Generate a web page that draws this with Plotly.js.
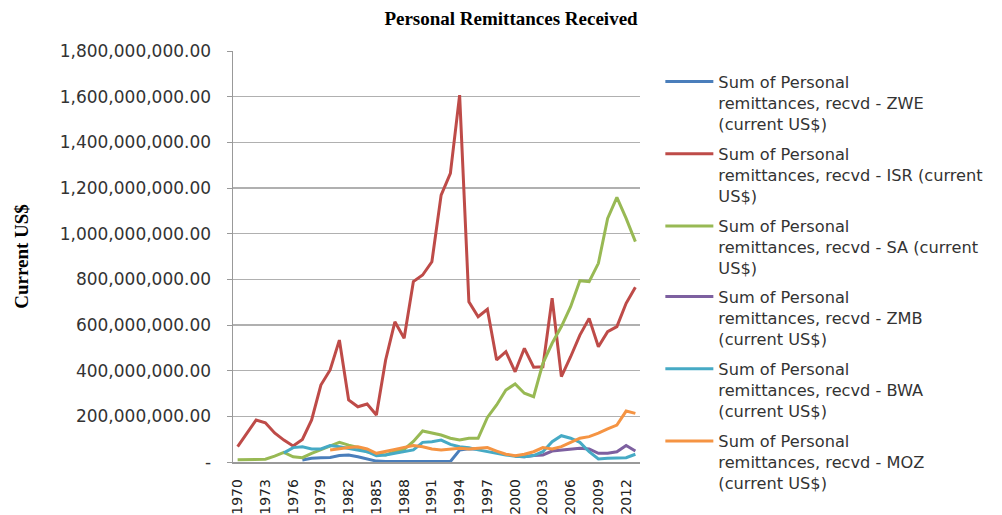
<!DOCTYPE html>
<html>
<head>
<meta charset="utf-8">
<script src="https://cdn.plot.ly/plotly-3.0.1.min.js"></script>
<style>
  html, body { margin: 0; padding: 0; background: #fff; }
  #chart { width: 1002px; height: 515px; }
</style>
</head>
<body>
<div id="chart"></div>
<script>
// years on the category axis
var years = [1970, 1971, 1972, 1973, 1974, 1975, 1976, 1977, 1978, 1979,
             1980, 1981, 1982, 1983, 1984, 1985, 1986, 1987, 1988, 1989,
             1990, 1991, 1992, 1993, 1994, 1995, 1996, 1997, 1998, 1999,
             2000, 2001, 2002, 2003, 2004, 2005, 2006, 2007, 2008, 2009,
             2010, 2011, 2012, 2013];

// values in millions of current US$
var zwe = [null, null, null, null, null, null, null, 9, 16, 19,
           20, 28, 31, 23, 13, 4, 2, 2, 2, 2,
           2, 2, 2, 2, 52, 58, 57, null, null, null,
           null, null, null, null, null, null, null, null, null, null,
           null, null, null, null];
var isr = [67, 128, 184, 172, 127, 96, 70, 99, 184, 337,
           403, 534, 272, 242, 254, 206, 447, 614, 542, 790,
           819, 877, 1169, 1264, 1607, 702, 636, 669, 447, 483,
           395, 498, 415, 417, 717, 374, 461, 556, 629, 505,
           571, 593, 695, 765];
var sa  = [10, 10, 10, 12, 26, 42, 23, 19, 38, 53,
           70, 86, 74, 64, 45, 35, 31, 45, 55, 90,
           136, 126, 118, 104, 96, 104, 104, 195, 250, 315,
           342, 301, 286, 432, 520, 593, 680, 794, 790, 870,
           1067, 1159, 1067, 965];
var zmb = [null, null, null, null, null, null, null, null, null, null,
           null, null, null, null, null, null, null, null, null, null,
           null, null, null, null, null, null, null, null, null, null,
           25, 23, 28, 31, 48, 53, 57, 60, 57, 38,
           38, 45, 72, 48];
var bwa = [null, null, null, null, null, 40, 63, 67, 57, 57,
           72, 67, 60, 53, 45, 28, 31, 38, 45, 53,
           86, 89, 96, 77, 67, 63, 53, 45, 38, 31,
           25, 23, 28, 45, 89, 115, 104, 86, 45, 13,
           16, 16, 19, 34];
var moz = [null, null, null, null, null, null, null, null, null, null,
           53, 60, 64, 67, 57, 38, 45, 55, 64, 72,
           67, 57, 53, 57, 60, 57, 60, 63, 48, 34,
           28, 34, 45, 63, 57, 67, 86, 104, 111, 126,
           145, 162, 223, 213];

var seriesNames = [
  'Sum of Personal<br>remittances, recvd - ZWE<br>(current US$)',
  'Sum of Personal<br>remittances, recvd - ISR (current<br>US$)',
  'Sum of Personal<br>remittances, recvd - SA (current<br>US$)',
  'Sum of Personal<br>remittances, recvd - ZMB<br>(current US$)',
  'Sum of Personal<br>remittances, recvd - BWA<br>(current US$)',
  'Sum of Personal<br>remittances, recvd - MOZ<br>(current US$)'
];
var seriesColors = ['#4A7EBB', '#BE4B48', '#98B954', '#7D60A0', '#46AAC5', '#F59443'];
var seriesValues = [zwe, isr, sa, zmb, bwa, moz];

var yTickVals = [0, 200, 400, 600, 800, 1000, 1200, 1400, 1600, 1800];
var yTickText = ['-', '200,000,000.00', '400,000,000.00', '600,000,000.00', '800,000,000.00',
                 '1,000,000,000.00', '1,200,000,000.00', '1,400,000,000.00',
                 '1,600,000,000.00', '1,800,000,000.00'];
var xTickVals = [1970, 1973, 1976, 1979, 1982, 1985, 1988, 1991, 1994, 1997, 2000, 2003, 2006, 2009, 2012];

// the legend is too tall for one plotly legend box, so split it in two
var data = seriesValues.map(function (vals, i) {
    return {
        x: years,
        y: vals,
        type: 'scatter',
        mode: 'lines',
        name: seriesNames[i],
        legend: i < 3 ? 'legend' : 'legend2',
        legendgroup: 'g' + i,
        line: { color: seriesColors[i], width: 3 },
        connectgaps: false
    };
});

var legendStyle = function (yPos) {
    return {
        x: 1.05, xanchor: 'left',
        y: yPos, yanchor: 'top',
        valign: 'top',
        itemwidth: 48,
        traceorder: 'grouped',
        tracegroupgap: 6,
        font: { family: 'DejaVu Sans', size: 16.2, color: '#333' },
        bgcolor: 'rgba(0,0,0,0)'
    };
};

var layout = {
    width: 1002,
    height: 515,
    margin: { l: 233, r: 362, t: 51, b: 53 },
    paper_bgcolor: '#ffffff',
    plot_bgcolor: '#ffffff',
    title: {
        text: '<b>Personal Remittances Received</b>',
        font: { family: 'Liberation Serif', size: 19, color: '#000' },
        x: 0.51, xanchor: 'center',
        y: 0.965, yanchor: 'middle'
    },
    showlegend: true,
    legend: legendStyle(0.967),
    legend2: legendStyle(0.444),
    xaxis: {
        range: [1969.5, 2013.5],
        tickvals: xTickVals,
        tickangle: -90,
        tickfont: { family: 'DejaVu Sans', size: 14, color: '#222' },
        showgrid: false,
        zeroline: false,
        showline: true,
        linecolor: '#999',
        linewidth: 1.5,
        ticks: '',
        ticklabelstandoff: 10
    },
    yaxis: {
        title: {
            text: '<b>Current US$</b>',
            font: { family: 'Liberation Serif', size: 19, color: '#000' },
            standoff: 26
        },
        range: [0, 1800],
        tickvals: yTickVals,
        ticktext: yTickText,
        tickfont: { family: 'DejaVu Sans', size: 17, color: '#333' },
        showgrid: true,
        gridcolor: '#b0b0b0',
        gridwidth: 1.5,
        zeroline: false,
        showline: true,
        linecolor: '#999',
        linewidth: 1.5,
        ticks: 'outside',
        ticklen: 5,
        tickcolor: '#999',
        ticklabelstandoff: 12
    }
};

Plotly.newPlot('chart', data, layout, { displayModeBar: false, staticPlot: true });
</script>
</body>
</html>
